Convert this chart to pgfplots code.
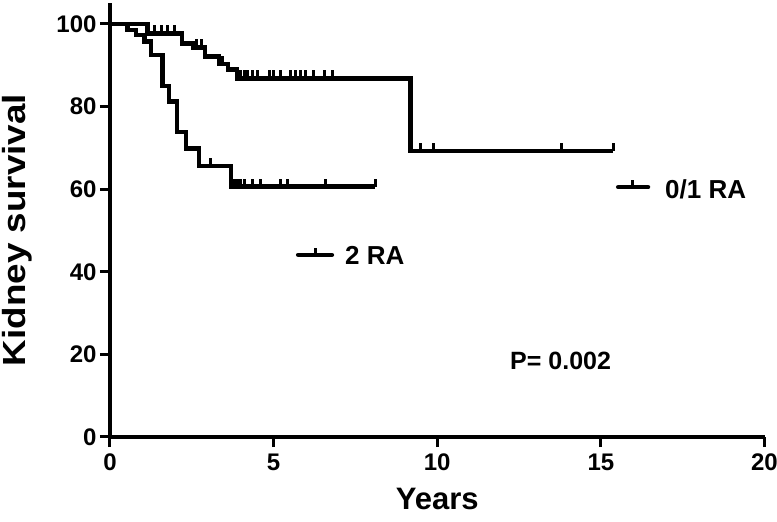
\documentclass[border=0pt]{standalone}
\usepackage{fontspec}
\setmainfont{Liberation Sans}
\usepackage{pgfplots}
\pgfplotsset{compat=1.18}
\pgfdeclareplotmark{cens}{%
  \pgfpathmoveto{\pgfqpoint{0pt}{0pt}}%
  \pgfpathlineto{\pgfqpoint{0pt}{\pgfplotmarksize}}%
  \pgfusepathqstroke}
\begin{document}
\begin{tikzpicture}
\begin{axis}[
  at={(0pt,0pt)}, anchor=south west,
  scale only axis, width=654.5pt, height=433.7pt,
  xmin=0, xmax=20, ymin=0, ymax=105,
  axis lines=left, axis line style={line width=3.5pt, -},
  xtick={0,5,10,15,20}, ytick={0,20,40,60,80,100},
  tick align=outside, major tick length=10pt,
  tick style={line width=3pt, black},
  /pgf/number format/assume math mode=true,
  ticklabel style={font=\bfseries\fontsize{24}{24}\selectfont},
  xticklabel style={yshift=-3pt},
  yticklabel style={xshift=0pt},
  xlabel={Years}, ylabel={\scalebox{1.15}[1]{Kidney survival}},
  xlabel style={font=\bfseries\fontsize{31}{31}\selectfont, at={(axis description cs:0.5,-0.168)}, anchor=base, inner sep=0pt},
  ylabel style={font=\bfseries\fontsize{32}{32}\selectfont, at={(axis description cs:-0.142,0.477)}, anchor=center, rotate=0},
  clip=false,
]
% 0/1 RA
\addplot[const plot, line width=4.5pt, black] coordinates {
(0,100) (1.15,97.7) (2.2,95.3) (2.55,94.3) (2.9,92.1) (3.33,90.3) (3.6,89.0) (3.88,86.8) (9.18,69.3) (15.38,69.3)};
\addplot[only marks, mark=cens, mark size=8pt, line width=3pt, black] coordinates {
(1.35,97.7) (1.56,97.7) (1.76,97.7) (1.96,97.7)
(2.65,94.3) (2.8,94.3) (3.45,90.3)
(4.0,86.8) (4.1,86.8) (4.2,86.8) (4.35,86.8) (4.5,86.8) (4.86,86.8) (5.01,86.8) (5.22,86.8)
(5.52,86.8) (5.67,86.8) (5.83,86.8) (5.98,86.8) (6.23,86.8) (6.54,86.8) (6.79,86.8)
(9.49,69.3) (9.89,69.3) (13.79,69.3) (15.38,69.3)};
% 2 RA
\addplot[const plot, line width=4.5pt, black] coordinates {
(0,100) (0.54,98.5) (0.8,97.3) (1.05,95.7) (1.25,92.5) (1.6,85.0) (1.81,81.2) (2.04,73.9) (2.32,69.9) (2.72,65.6) (3.69,60.6) (8.11,60.6)};
\addplot[only marks, mark=cens, mark size=8pt, line width=3pt, black] coordinates {
(3.08,65.6)
(3.8,60.6) (3.9,60.6) (4.0,60.6) (4.1,60.6) (4.35,60.6) (4.6,60.6) (5.22,60.6) (5.42,60.6) (6.59,60.6) (8.11,60.6)};
% legend glyphs
\addplot[line width=4.5pt, line cap=round, black] coordinates {(5.75,44.1) (6.78,44.1)};
\addplot[only marks, mark=cens, mark size=7pt, line width=3pt, black] coordinates {(6.27,44.1)};
\addplot[line width=4.5pt, line cap=round, black] coordinates {(15.53,60.5) (16.44,60.5)};
\addplot[only marks, mark=cens, mark size=7pt, line width=3pt, black] coordinates {(15.98,60.5)};
\node[anchor=west, font=\bfseries\fontsize{26}{26}\selectfont, inner sep=0pt] at (axis cs:7.18,44.0) {2 RA};
\node[anchor=west, font=\bfseries\fontsize{26}{26}\selectfont, inner sep=0pt] at (axis cs:16.96,60.0) {0/1 RA};
\node[anchor=center, font=\bfseries\fontsize{25}{25}\selectfont, inner sep=0pt] at (axis cs:13.77,18.4) {P= 0.002};
\end{axis}
\pgfresetboundingbox
\path[use as bounding box] (-110pt,-85pt) rectangle (667pt,433.7pt+3.3pt);
\end{tikzpicture}
\end{document}
